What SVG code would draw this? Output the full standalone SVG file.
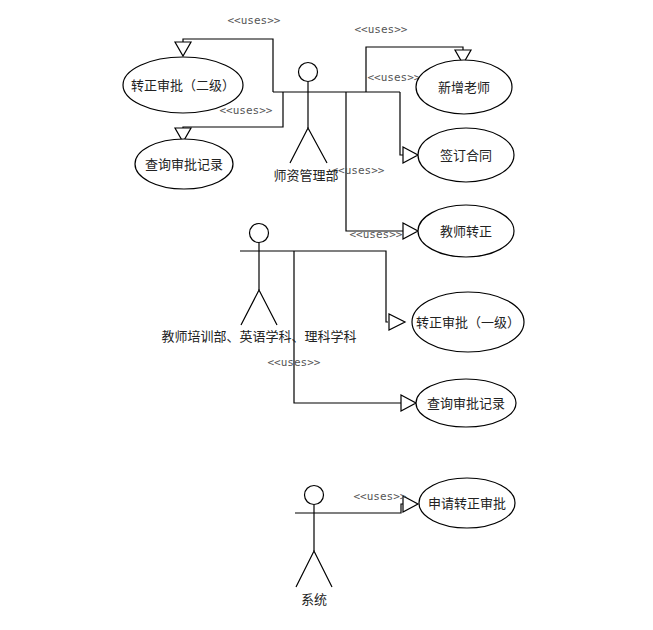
<svg xmlns="http://www.w3.org/2000/svg" width="653" height="630" viewBox="0 0 653 630">
<style>
.l{fill:none;stroke:#000;stroke-width:1.2}
.t{fill:#fff;stroke:#000;stroke-width:1.2}
.e{fill:#fff;stroke:#000;stroke-width:1.2}
text{font-family:"Noto Sans CJK SC",sans-serif;font-size:13px;fill:#222;text-anchor:middle}
.u{font-family:"DejaVu Sans Mono","Liberation Mono",monospace;font-size:11px;fill:#555}
</style>
<rect width="653" height="630" fill="#fff"/>
<g id="connectors">
<polyline class="l" points="273,92 400,92"/>
<polyline class="l" points="273,92 273,39 183,39 183,42"/>
<polygon class="t" points="175,42 191,42 183,56"/>
<polyline class="l" points="283,92 283,127 183,127 183,128"/>
<polygon class="t" points="175,128 191,128 183,142"/>
<polyline class="l" points="366,92 366,47 463,47 463,50"/>
<polygon class="t" points="455,50 471,50 463,64"/>
<polyline class="l" points="400,92 400,155 403,155"/>
<polygon class="t" points="403,147 403,163 418,155"/>
<polyline class="l" points="346,92 346,231 403,231"/>
<polygon class="t" points="403,223 403,239 418,231"/>
<polyline class="l" points="240,251 386,251 386,322 388,322"/>
<polygon class="t" points="389,314 389,330 405,322"/>
<polyline class="l" points="294,251 294,403 401,403"/>
<polygon class="t" points="401,395 401,411 416,403"/>
<polyline class="l" points="295,513 401,513 401,504 403,504"/>
<polygon class="t" points="403,496 403,512 418,504"/>
<text class="u" x="254" y="24">&lt;&lt;uses&gt;&gt;</text>
<text class="u" x="381" y="33">&lt;&lt;uses&gt;&gt;</text>
<text class="u" x="246" y="114">&lt;&lt;uses&gt;&gt;</text>
<text class="u" x="394" y="81">&lt;&lt;uses&gt;&gt;</text>
<text class="u" x="358" y="174">&lt;&lt;uses&gt;&gt;</text>
<text class="u" x="376" y="238">&lt;&lt;uses&gt;&gt;</text>
<text class="u" x="294" y="366">&lt;&lt;uses&gt;&gt;</text>
<text class="u" x="380" y="500">&lt;&lt;uses&gt;&gt;</text>
</g>
<g id="actor1"><circle class="e" cx="308" cy="72" r="9.5"/><polyline class="l" points="308,82 308,128"/><polyline class="l" points="290,163 308,128 327,163"/><text x="306" y="180">师资管理部</text></g>
<g id="actor2"><circle class="e" cx="259" cy="233" r="9.5"/><polyline class="l" points="259,243 259,290"/><polyline class="l" points="241,325 259,290 277,325"/><text x="259" y="341">教师培训部、英语学科、理科学科</text></g>
<g id="actor3"><circle class="e" cx="314" cy="495" r="9.5"/><polyline class="l" points="314,505 314,551"/><polyline class="l" points="296,587 314,551 332,587"/><text x="314" y="604">系统</text></g>
<g id="uc1"><ellipse class="e" cx="183" cy="85" rx="60" ry="28"/><text x="183" y="90">转正审批（二级）</text></g>
<g id="uc2"><ellipse class="e" cx="184" cy="164" rx="49" ry="25"/><text x="184" y="169">查询审批记录</text></g>
<g id="uc3"><ellipse class="e" cx="464" cy="87" rx="48" ry="27"/><text x="464" y="92">新增老师</text></g>
<g id="uc4"><ellipse class="e" cx="466" cy="155" rx="48" ry="27"/><text x="466" y="160">签订合同</text></g>
<g id="uc5"><ellipse class="e" cx="466" cy="231" rx="48" ry="26"/><text x="466" y="236">教师转正</text></g>
<g id="uc6"><ellipse class="e" cx="468" cy="322" rx="56" ry="30"/><text x="468" y="327">转正审批（一级）</text></g>
<g id="uc7"><ellipse class="e" cx="466" cy="403" rx="50" ry="24"/><text x="466" y="408">查询审批记录</text></g>
<g id="uc8"><ellipse class="e" cx="467" cy="503" rx="48" ry="25"/><text x="467" y="508">申请转正审批</text></g>
</svg>
